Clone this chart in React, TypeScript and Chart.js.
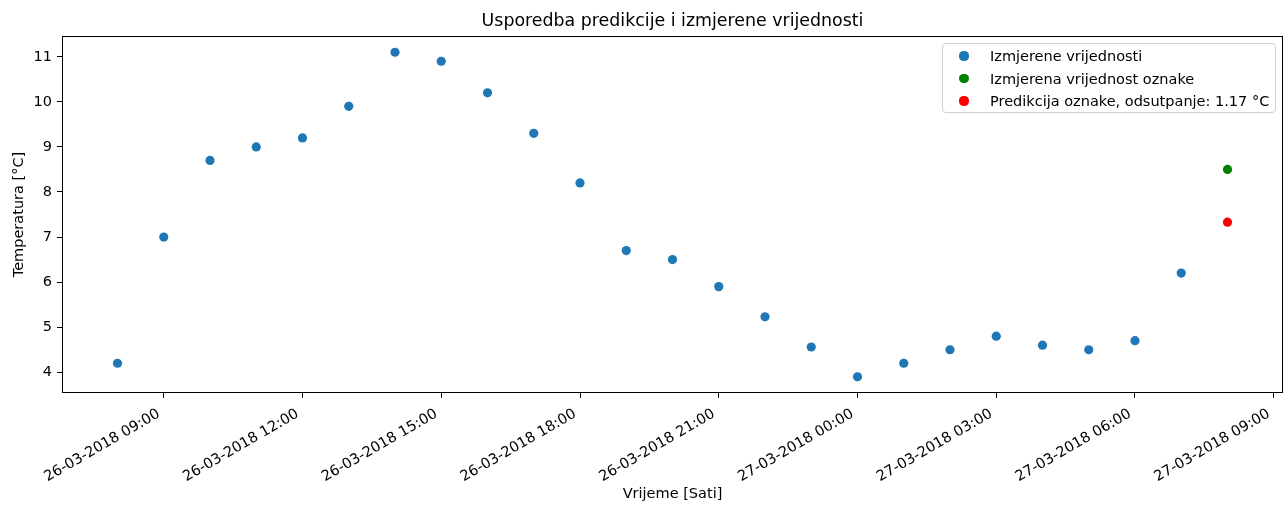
import React, { useEffect, useRef } from "react";
import { Chart, registerables } from "chart.js";

Chart.register(...registerables);

// Hours counted from 26-03-2018 00:00
const measuredHours = [8, 9, 10, 11, 12, 13, 14, 15, 16, 17, 18, 19, 20, 21, 22, 23, 24, 25, 26, 27, 28, 29, 30, 31];
const measuredValues = [4.2, 7.0, 8.7, 9.0, 9.2, 9.9, 11.1, 10.9, 10.2, 9.3, 8.2, 6.7, 6.5, 5.9, 5.23, 4.56, 3.9, 4.2, 4.5, 4.8, 4.6, 4.5, 4.7, 6.2];
const labelHour = [32];
const labelMeasured = [8.5];
const labelPredicted = [7.33];

const seriesLabels = [
  "Izmjerene vrijednosti",
  "Izmjerena vrijednost oznake",
  "Predikcija oznake, odsutpanje: 1.17 °C",
];
const seriesColors = ["#1f77b4", "#008000", "#ff0000"];

const xTickValues = [9, 12, 15, 18, 21, 24, 27, 30, 33];
const xTickLabels = [
  "26-03-2018 09:00",
  "26-03-2018 12:00",
  "26-03-2018 15:00",
  "26-03-2018 18:00",
  "26-03-2018 21:00",
  "27-03-2018 00:00",
  "27-03-2018 03:00",
  "27-03-2018 06:00",
  "27-03-2018 09:00",
];
const yTickValues = [4, 5, 6, 7, 8, 9, 10, 11];

const FONT = "'DejaVu Sans', sans-serif";
const FS = 14.5;
const TITLE_FS = 17.4;

export default function App() {
  const canvasRef = useRef<HTMLCanvasElement | null>(null);

  useEffect(() => {
    const canvas = canvasRef.current;
    if (!canvas) return;

    const frame = {
      id: "frame",
      afterDraw(chart: any) {
        const { ctx, chartArea } = chart;
        ctx.save();
        ctx.strokeStyle = "#000";
        ctx.lineWidth = 1;
        const l = Math.round(chartArea.left) + 0.5;
        const t = Math.round(chartArea.top) + 0.5;
        const r = Math.round(chartArea.right) - 0.5;
        const b = Math.round(chartArea.bottom) - 0.5;
        ctx.strokeRect(l, t, r - l, b - t);

        // rotated x tick labels (matplotlib autofmt_xdate style, 30°)
        const xs = chart.scales.x;
        ctx.fillStyle = "#000";
        ctx.font = `${FS}px ${FONT}`;
        ctx.textAlign = "right";
        ctx.textBaseline = "middle";
        xs.ticks.forEach((tk: any) => {
          const i = xTickValues.indexOf(tk.value);
          if (i < 0) return;
          const px = xs.getPixelForValue(tk.value);
          ctx.save();
          ctx.translate(px - 5, chartArea.bottom + 20);
          ctx.rotate((-30 * Math.PI) / 180);
          ctx.fillText(xTickLabels[i], 0, 0);
          ctx.restore();
        });
        ctx.restore();
      },
    };

    const allY = [...measuredValues, ...labelMeasured, ...labelPredicted];
    const allX = [...measuredHours, ...labelHour];
    const yMinD = Math.min(...allY);
    const yMaxD = Math.max(...allY);
    const xMinD = Math.min(...allX);
    const xMaxD = Math.max(...allX);
    const yM = (yMaxD - yMinD) * 0.05;
    const xM = (xMaxD - xMinD) * 0.05;

    const chart = new Chart(canvas, {
      type: "scatter",
      data: {
        datasets: [
          {
            label: seriesLabels[0],
            data: measuredHours.map((h, i) => ({ x: h, y: measuredValues[i] })),
            backgroundColor: seriesColors[0],
            borderWidth: 0,
            pointRadius: 4.6,
          },
          {
            label: seriesLabels[1],
            data: labelHour.map((h, i) => ({ x: h, y: labelMeasured[i] })),
            backgroundColor: seriesColors[1],
            borderWidth: 0,
            pointRadius: 4.6,
          },
          {
            label: seriesLabels[2],
            data: labelHour.map((h, i) => ({ x: h, y: labelPredicted[i] })),
            backgroundColor: seriesColors[2],
            borderWidth: 0,
            pointRadius: 4.6,
          },
        ],
      },
      options: {
        animation: false,
        responsive: false,
        events: [],
        layout: { padding: { left: 0, right: 5, top: 0, bottom: 0 } },
        plugins: {
          legend: { display: false },
          tooltip: { enabled: false },
          title: {
            display: true,
            fullSize: false,
            text: "Usporedba predikcije i izmjerene vrijednosti",
            color: "#000",
            font: { family: FONT, size: TITLE_FS, weight: "normal", lineHeight: 1.15 },
            padding: { top: 11, bottom: 5 },
          },
        },
        scales: {
          x: {
            type: "linear",
            min: xMinD - xM,
            max: xMaxD + xM,
            afterBuildTicks: (scale: any) => {
              scale.ticks = xTickValues.map((v) => ({ value: v }));
            },
            afterFit: (scale: any) => {
              scale.height = 113;
            },
            ticks: {
              display: false,
              autoSkip: false,
            },
            grid: {
              drawOnChartArea: false,
              drawTicks: true,
              tickLength: 5,
              tickColor: "#000",
            },
            border: { display: false },
            title: {
              display: true,
              text: "Vrijeme [Sati]",
              color: "#000",
              font: { family: FONT, size: FS },
              padding: { top: 0, bottom: 3 },
            },
          },
          y: {
            type: "linear",
            min: yMinD - yM,
            max: yMaxD + yM,
            afterBuildTicks: (scale: any) => {
              scale.ticks = yTickValues.map((v) => ({ value: v }));
            },
            afterFit: (scale: any) => {
              scale.width = 62;
            },
            ticks: {
              autoSkip: false,
              padding: 5,
              color: "#000",
              font: { family: FONT, size: FS },
              callback: (v: any) => String(v),
            },
            grid: {
              drawOnChartArea: false,
              drawTicks: true,
              tickLength: 5,
              tickColor: "#000",
            },
            border: { display: false },
            title: {
              display: true,
              text: "Temperatura [°C]",
              color: "#000",
              font: { family: FONT, size: FS },
              padding: { top: 11, bottom: 0 },
            },
          },
        },
      },
      plugins: [frame],
    } as any);

    return () => chart.destroy();
  }, []);

  return (
    <div
      style={{
        position: "absolute",
        left: 0,
        top: 0,
        width: 1288,
        height: 506,
        background: "#fff",
      }}
    >
      <canvas ref={canvasRef} width={1288} height={506} style={{ display: "block" }} />
      <div
        style={{
          position: "absolute",
          left: 942,
          top: 43,
          width: 334,
          height: 70,
          boxSizing: "border-box",
          border: "1px solid #d0d0d0",
          borderRadius: 4,
          background: "rgba(255,255,255,0.8)",
          fontFamily: FONT,
          fontSize: FS,
          color: "#000",
        }}
      >
        {seriesLabels.map((lab, i) => (
          <div
            key={lab}
            style={{
              position: "absolute",
              left: 0,
              top: 12 + i * 22.5 - 11,
              height: 22,
              width: "100%",
              display: "flex",
              alignItems: "center",
            }}
          >
            <span
              style={{
                position: "absolute",
                left: 21 - 4.6,
                width: 9.2,
                height: 9.2,
                borderRadius: "50%",
                background: seriesColors[i],
              }}
            />
            <span style={{ position: "absolute", left: 47, whiteSpace: "nowrap", lineHeight: "22px" }}>{lab}</span>
          </div>
        ))}
      </div>
    </div>
  );
}
